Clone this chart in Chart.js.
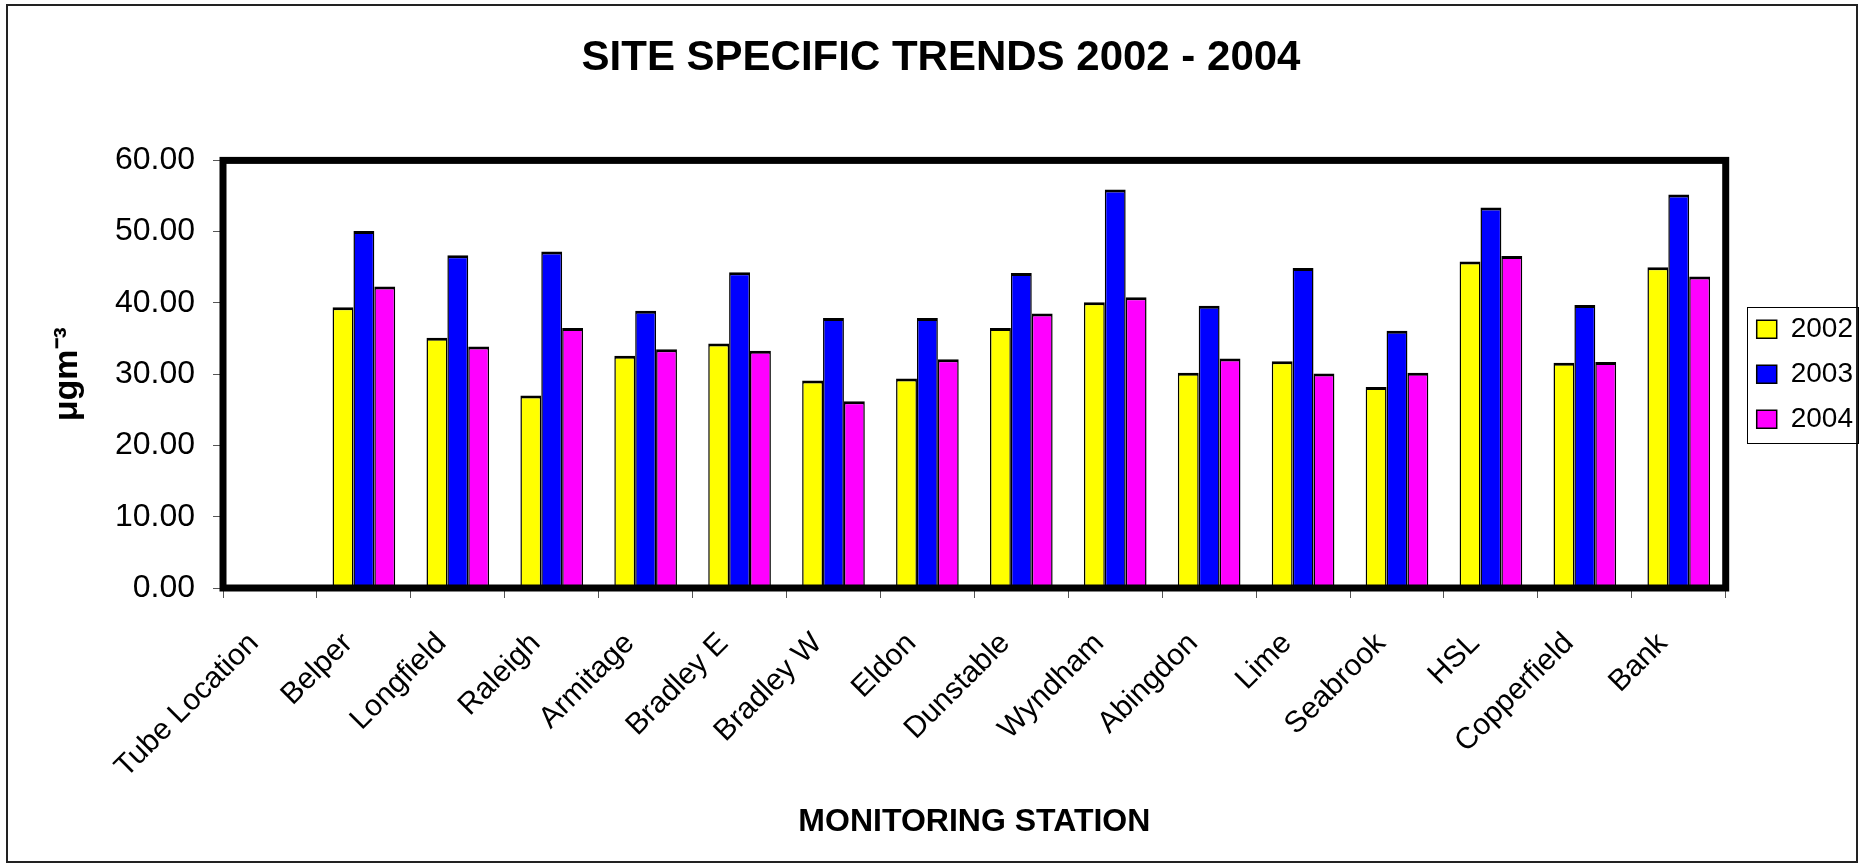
<!DOCTYPE html>
<html>
<head>
<meta charset="utf-8">
<script src="https://cdn.jsdelivr.net/npm/chart.js@4.4.1/dist/chart.umd.min.js"></script>
<style>
  html, body { margin: 0; padding: 0; background: #fff; }
  .chart-wrap { position: relative; width: 1863px; height: 867px; }
</style>
</head>
<body>
<div class="chart-wrap"><canvas id="trendChart"></canvas></div>
<script>
const categories = ['Tube Location', 'Belper', 'Longfield', 'Raleigh', 'Armitage', 'Bradley E', 'Bradley W',
  'Eldon', 'Dunstable', 'Wyndham', 'Abingdon', 'Lime', 'Seabrook', 'HSL', 'Copperfield', 'Bank'];
const seriesNames = ['2002', '2003', '2004'];
const values2002 = [null, 39.4, 35.1, 27.0, 32.6, 34.3, 29.1, 29.4, 36.5, 40.1, 30.2, 31.8, 28.2, 45.8, 31.6, 45.0];
const values2003 = [null, 50.1, 46.7, 47.2, 38.9, 44.3, 37.9, 37.9, 44.2, 55.9, 39.6, 44.9, 36.1, 53.4, 39.7, 55.2];
const values2004 = [null, 42.3, 33.9, 36.5, 33.5, 33.3, 26.2, 32.1, 38.5, 40.8, 32.2, 30.1, 30.2, 46.6, 31.7, 43.7];
const yTicks = [0, 10, 20, 30, 40, 50, 60];

const FONT = "'Liberation Sans', Arial, sans-serif";
const colors = ['#ffff00', '#0000ff', '#ff00ff'];

// frame round the plot area, the legend and the whole chart
const framePlugin = {
  id: 'frames',
  afterDatasetsDraw(chart) {
    const { ctx, chartArea: a } = chart;
    ctx.save();
    ctx.strokeStyle = '#000';
    ctx.lineWidth = 7;
    ctx.strokeRect(a.left, a.top, a.right - a.left, a.bottom - a.top);
    ctx.restore();
  },
  afterDraw(chart) {
    const { ctx } = chart;
    ctx.save();
    ctx.strokeStyle = '#222';
    ctx.lineWidth = 2;
    ctx.strokeRect(7, 5, 1850, 857);
    const lg = chart.legend;
    const hb = lg && lg.legendHitBoxes;
    if (hb && hb.length) {
      const first = hb[0], last = hb[hb.length - 1];
      const x1 = first.left - 10, x2 = lg.right - 5;
      const y1 = first.top - 8, y2 = last.top + last.height + 10;
      ctx.strokeStyle = '#000';
      ctx.lineWidth = 1;
      ctx.strokeRect(Math.round(x1) + 0.5, Math.round(y1) + 0.5, Math.round(x2 - x1), Math.round(y2 - y1));
    }
    ctx.restore();
  }
};

const barStyle = (i) => ({
  backgroundColor: colors[i],
  borderColor: '#000',
  borderWidth: { top: 3, left: 1.5, right: 1.5, bottom: 0 },
  categoryPercentage: 0.667,
  barPercentage: 1.0
});

new Chart(document.getElementById('trendChart'), {
  type: 'bar',
  data: {
    labels: categories,
    datasets: [
      { label: seriesNames[0], data: values2002, ...barStyle(0) },
      { label: seriesNames[1], data: values2003, ...barStyle(1) },
      { label: seriesNames[2], data: values2004, ...barStyle(2) }
    ]
  },
  options: {
    responsive: true,
    maintainAspectRatio: false,
    animation: false,
    layout: { padding: { left: 19, right: 0, top: 0, bottom: 0 } },
    plugins: {
      title: {
        display: true,
        text: 'SITE SPECIFIC TRENDS 2002 - 2004',
        color: '#000',
        font: { family: FONT, size: 42, weight: 'bold', lineHeight: 1.2 },
        padding: { top: 33, bottom: 77 }
      },
      legend: {
        position: 'right',
        fullSize: false,
        labels: {
          color: '#000',
          font: { family: FONT, size: 28 },
          boxWidth: 20,
          boxHeight: 18,
          padding: 17
        }
      },
      tooltip: { enabled: false }
    },
    scales: {
      x: {
        grid: { offset: true, drawOnChartArea: false, drawTicks: true, tickLength: 10, color: '#555' },
        border: { display: false },
        ticks: {
          color: '#000',
          font: { family: FONT, size: 30 },
          minRotation: 45,
          maxRotation: 45,
          autoSkip: false,
          padding: 28,
          labelOffset: -16
        },
        title: {
          display: true,
          text: 'MONITORING STATION',
          color: '#000',
          font: { family: FONT, size: 32, weight: 'bold', lineHeight: 1.2 },
          padding: { top: 0, bottom: 26 }
        },
        afterFit(scale) { scale.height = 279; }
      },
      y: {
        min: yTicks[0],
        max: yTicks[yTicks.length - 1],
        grid: { drawOnChartArea: false, drawTicks: true, tickLength: 10, color: '#555' },
        border: { display: false },
        ticks: {
          stepSize: 10,
          color: '#000',
          font: { family: FONT, size: 32 },
          padding: 18,
          callback: (v) => Number(v).toFixed(2)
        },
        title: {
          display: true,
          text: 'μgm⁻³',
          color: '#000',
          font: { family: FONT, size: 34, weight: 'bold', lineHeight: 1.2 },
          padding: { top: 28, bottom: 0 }
        },
        afterFit(scale) { scale.width = 204; }
      },
      gap: {
        position: 'right',
        min: 0,
        max: 60,
        grid: { display: false },
        border: { display: false },
        ticks: { display: false },
        afterFit(scale) { scale.width = 14; }
      }
    }
  },
  plugins: [framePlugin]
});
</script>
</body>
</html>
